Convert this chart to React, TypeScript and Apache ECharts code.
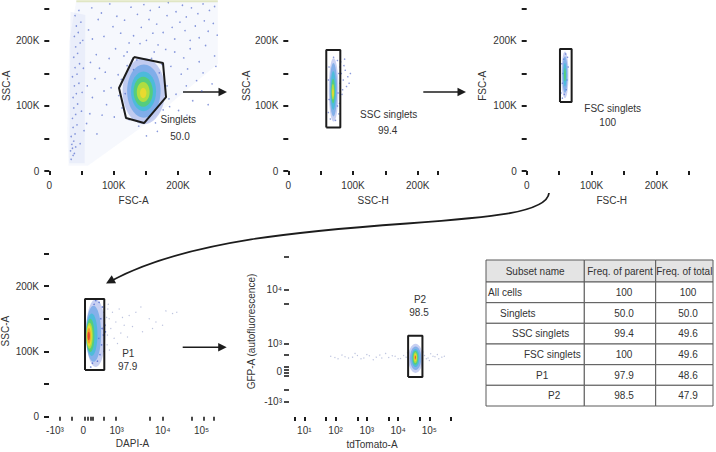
import React, { useEffect, useRef } from 'react';
import * as echarts from 'echarts';

const FONT = 'Liberation Sans, Arial, Helvetica, sans-serif';
const INK = '#1c1c1c';
const TXT = '#333333';
const DOT = '#3a55c4';
const FAINT = '#8d9ac8';
const densityColors = ['#3b57d0', '#3f8fe2', '#3cbfd6', '#56cf70', '#b9de3c', '#ecd92e', '#f39a2a', '#e5412b'];
const densityOpacity = [0.28, 0.5, 0.75, 0.88, 0.92, 0.95, 0.95, 0.95];

// ---------- axis ticks / labels ----------
const kTicks = [0, 50, 100, 150, 200, 250];
const kTicks200 = [0, 50, 100, 150, 200];
const kTicksSscH = [0, 50, 100, 150, 200, 231];
const kLabels = [0, 100, 200];

const dapiTicks = [66, 136, 217, 233, 248, 263, 325, 401, 605, 681, 855, 924, 984];
const dapiLabelPos = [36, 205, 405, 681, 914];
const dapiLabelText = ['-10³', '0', '10³', '10⁴', '10⁵'];

const tdTicks = [5, 10, 50, 100, 500, 1000, 5000, 10000, 50000, 100000, 500000];
const tdLabelPos = [10, 100, 1000, 10000, 100000];
const tdLabelText = ['10¹', '10²', '10³', '10⁴', '10⁵'];

const gfpTicks = [90, 158, 243, 259, 275, 291, 363, 431, 665, 743, 937];
const gfpLabelPos = [90, 265, 431, 743];
const gfpLabelText = ['-10³', '0', '10³', '10⁴'];

// ---------- Panel 1: FSC-A (K) vs SSC-A (K) ----------
const p1Background = [[30, 8], [60, 8], [150, 72], [262, 165], [262, 262], [42, 262], [31, 200], [28, 60]];
const p1Band = [[31, 12], [55, 12], [56, 240], [33, 245]];
const p1Dots = [
  [34, 18], [37, 24], [33, 31], [36, 35], [39, 27], [35, 41], [38, 46], [41, 37], [34, 53], [40, 57], [37, 67], [43, 71], [36, 81], [41, 87],
  [38, 97], [44, 103], [37, 113], [42, 119], [39, 131], [46, 135], [36, 145], [43, 149], [40, 159], [47, 165], [38, 175], [44, 181], [41, 191],
  [48, 197], [39, 207], [45, 213], [42, 223], [49, 229], [40, 239], [46, 247], [51, 121], [53, 158], [50, 92], [52, 201], [54, 62], [48, 42],
  [58, 73], [63, 88], [67, 113], [59, 131], [71, 142], [64, 167], [73, 179], [67, 203], [61, 217], [76, 233], [66, 251], [81, 243], [78, 158],
  [85, 123], [89, 102], [82, 86], [96, 128], [87, 152], [93, 173], [85, 207], [99, 222], [94, 257], [105, 238], [111, 212], [103, 188],
  [116, 177], [107, 148], [101, 83], [113, 97], [121, 183], [117, 232], [127, 252], [131, 208], [124, 197], [74, 57],
  [137, 241], [143, 221], [147, 256], [155, 233], [161, 212], [157, 247], [167, 226], [171, 252], [177, 213], [183, 239], [185, 259],
  [191, 221], [195, 203], [197, 245], [203, 229], [207, 255], [211, 216], [213, 237], [219, 201], [221, 251], [227, 223], [231, 242],
  [233, 205], [239, 257], [241, 231], [247, 215], [249, 247], [255, 227], [257, 253], [261, 209], [169, 194], [181, 187], [195, 183],
  [209, 174], [219, 188], [233, 168], [243, 193], [257, 177], [189, 161], [205, 149], [215, 157], [229, 139], [239, 151], [253, 134],
  [259, 161], [197, 118], [213, 131], [223, 108], [237, 123], [247, 102], [187, 99], [201, 93], [214, 86], [141, 196], [151, 201],
  [129, 171], [163, 183], [115, 101], [112, 141], [121, 162], [136, 171], [159, 173], [175, 164], [183, 131], [177, 94], [165, 74],
  [139, 69], [124, 79], [118, 119], [171, 151], [131, 156], [156, 84], [186, 111], [108, 116], [168, 61], [151, 54],
];
const p1Saturated = [[42, 261], [262, 261]];
const p1Density = [
  [114, 180, 72, 174, 0], [121, 173, 82, 164, 1], [127, 166, 92, 153, 2],
  [131, 161, 99, 145, 3], [136, 156, 106, 137, 4], [141, 151, 112, 128, 5],
];
const p1Gate = [[131.7, 175.4], [176.8, 166], [181.5, 113.8], [147.3, 73.8], [119.3, 81.5], [108.4, 127.7], [131.7, 175.4]];

// ---------- Panel 2: SSC-H (K) vs SSC-A (K) ----------
const p2Dots = [
  [62, 90], [63, 110], [62, 140], [63, 160], [76, 100], [77, 120], [78, 150], [76, 170], [80, 160], [82, 150], [85, 140], [88, 155],
  [90, 130], [84, 125], [92, 145], [86, 162], [81, 168], [94, 135], [83, 118], [87, 172], [79, 104], [78, 88], [80, 135], [96, 150],
  [65, 80], [70, 175], [73, 78],
];
const p2Density = [
  [62.5, 77.5, 76, 174, 0], [64, 75.5, 84, 166, 1], [65.5, 73.5, 94, 154, 2],
  [66.5, 72, 104, 142, 3], [67, 71, 110, 134, 4], [67.8, 70.2, 114, 126, 5],
];
const p2Gate = [[58.7, 67], [80.4, 67], [80.4, 186], [58.7, 186], [58.7, 67]];

// ---------- Panel 3: FSC-H (K) vs FSC-A (K) ----------
const p3Dots = [[53, 120], [55, 135], [56, 150], [54, 165], [63, 175], [64, 160], [62, 140], [58, 118], [60, 180], [57, 172], [61, 125], [55, 112]];
const p3Density = [[53.5, 64.5, 112, 184, 0], [55, 63, 120, 176, 1], [56.5, 61.5, 130, 166, 2], [57.5, 60.5, 138, 158, 3]];
const p3Gate = [[51.3, 106], [69.3, 106], [69.3, 187.7], [51.3, 187.7], [51.3, 106]];

// ---------- Panel 4: DAPI-A (display channel) vs SSC-A (K) ----------
const p4Dots = [
  [300, 175], [320, 168], [330, 160], [310, 150], [335, 140], [325, 125], [315, 110], [305, 95], [290, 85], [330, 100], [280, 178],
  [270, 172], [338, 130], [318, 135], [298, 120], [260, 82], [250, 76],
];
const p4Sparse = [
  [345, 152], [352, 165], [360, 150], [380, 160], [370, 135], [400, 145], [420, 165], [450, 140], [480, 155], [520, 160], [560, 130],
  [600, 150], [640, 145], [700, 162], [740, 158], [765, 160], [350, 125], [390, 120], [430, 128], [500, 138], [550, 168], [620, 135],
  [680, 140], [355, 172], [348, 110], [362, 102], [470, 122], [410, 112], [440, 152],
];
const p4Density = [
  [221, 338, 76, 180, 0], [221, 312, 84, 170, 1], [222, 290, 93, 158, 2], [223, 272, 99, 150, 3],
  [224, 262, 104, 144, 4], [226, 256, 108, 140, 5], [228, 250, 112, 136, 6], [231, 245, 117, 130, 7],
];
const p4Gate = [[215.6, 71.5], [331.1, 71.5], [331.1, 180.2], [215.6, 180.2], [215.6, 71.5]];

// ---------- Panel 5: tdTomato-A (log) vs GFP-A (display channel) ----------
const p5Sparse = [
  [70, 355], [95, 348], [120, 340], [160, 362], [200, 352], [260, 345], [350, 350], [420, 372], [500, 360], [650, 340], [800, 345],
  [1000, 365], [1200, 358], [1600, 335], [2000, 350], [2600, 362], [3000, 345], [4000, 372], [5000, 348], [6500, 358], [8000, 355],
  [10000, 340], [12000, 342], [15000, 360], [18000, 350], [20000, 375], [62000, 380], [70000, 360], [80000, 340], [90000, 345],
  [100000, 330], [110000, 370], [130000, 355], [150000, 352], [180000, 365], [200000, 340], [250000, 350], [300000, 355], [85000, 610],
];
const p5Density = [
  [21000, 62000, 258, 428, 0], [24000, 55000, 275, 412, 1], [27000, 48000, 292, 398, 2], [29000, 44000, 305, 388, 3],
  [31000, 41000, 316, 378, 4], [32500, 39000, 326, 370, 5], [33500, 37500, 334, 362, 6], [34500, 36500, 340, 356, 7],
];
const p5Gate = [[20900, 234], [60000, 234], [60000, 475], [20900, 475], [20900, 234]];

// ---------- Table ----------
const tableHeader = ['Subset name', 'Freq. of parent', 'Freq. of total'];
const subsetNames = ['All cells', 'Singlets', 'SSC singlets', 'FSC singlets', 'P1', 'P2'];
const subsetIndent = [0, 1, 2, 3, 4, 5];
const freqParent = [100, 50.0, 99.4, 100, 97.9, 98.5];
const freqTotal = [100, 50.0, 49.6, 49.6, 48.6, 47.9];

const fmtFreq = (v: number) => (v === 100 ? '100' : v.toFixed(1));
const fmtK = (v: number) => (Math.abs(v) < 1e-6 ? '0' : `${Math.round(v)}K`);
const nearestLabel = (pos: number[], text: string[], log = false) => (v: number) => {
  let best = 0;
  let bd = Infinity;
  pos.forEach((p, i) => {
    const d = log ? Math.abs(Math.log10(p) - Math.log10(v)) : Math.abs(p - v);
    if (d < bd) { bd = d; best = i; }
  });
  return text[best];
};

function axis(gridIndex: number, o: any) {
  return {
    gridIndex,
    type: o.type || 'value',
    logBase: 10,
    min: o.min,
    max: o.max,
    name: o.name,
    nameLocation: 'middle',
    nameGap: o.nameGap,
    nameTextStyle: { fontSize: 10, color: TXT, fontFamily: FONT },
    axisLine: { show: false },
    splitLine: { show: false },
    axisTick: { show: true, customValues: o.ticks, length: o.tickLen, lineStyle: { color: INK, width: o.tickWidth || 2 } },
    axisLabel: { show: true, customValues: o.labels, formatter: o.fmt, fontSize: 10, color: TXT, fontFamily: FONT, margin: o.margin },
  };
}

function densitySeries(g: number, layers: number[][]) {
  return {
    type: 'custom', xAxisIndex: g, yAxisIndex: g, silent: true, z: 3,
    encode: { x: [0, 1], y: [2, 3] },
    data: layers,
    renderItem: (_p: any, api: any) => {
      const a = api.coord([api.value(0), api.value(2)]);
      const b = api.coord([api.value(1), api.value(3)]);
      const lvl = api.value(4);
      return {
        type: 'ellipse',
        shape: { cx: (a[0] + b[0]) / 2, cy: (a[1] + b[1]) / 2, rx: Math.abs(b[0] - a[0]) / 2, ry: Math.abs(b[1] - a[1]) / 2 },
        style: { fill: densityColors[lvl], opacity: densityOpacity[lvl] },
      };
    },
  };
}

function polySeries(g: number, pts: number[][], fill: string) {
  return {
    type: 'custom', xAxisIndex: g, yAxisIndex: g, silent: true, z: 1,
    data: [pts[0]],
    renderItem: (_p: any, api: any) => ({
      type: 'polygon',
      shape: { points: pts.map((pt) => api.coord(pt)) },
      style: { fill },
    }),
  };
}

function dotSeries(g: number, pts: number[][], color = DOT, size = 1.7, opacity = 0.7) {
  return {
    type: 'scatter', xAxisIndex: g, yAxisIndex: g, silent: true, z: 2,
    symbolSize: size, itemStyle: { color, opacity }, data: pts,
  };
}

function gateSeries(g: number, pts: number[][]) {
  return {
    type: 'line', xAxisIndex: g, yAxisIndex: g, silent: true, z: 5,
    symbol: 'none', lineStyle: { color: INK, width: 2 }, data: pts,
  };
}

function head(tx: number, ty: number, dx: number, dy: number, len = 8.5, hw = 4.3) {
  const L = Math.hypot(dx, dy);
  const ux = dx / L;
  const uy = dy / L;
  const bx = tx - ux * len;
  const by = ty - uy * len;
  return {
    type: 'polygon',
    shape: { points: [[tx, ty], [bx - uy * hw, by + ux * hw], [bx + uy * hw, by - ux * hw]] },
    style: { fill: INK },
  };
}

function straightArrow(x1: number, x2: number, y: number) {
  return [
    { type: 'line', shape: { x1, y1: y, x2: x2 - 6, y2: y }, style: { stroke: INK, lineWidth: 1.6 } },
    head(x2, y, 1, 0),
  ];
}

function txt(text: string, x: number, y: number, align = 'center') {
  return {
    type: 'text',
    style: { text, x, y, fill: TXT, font: `10px ${FONT}`, align, verticalAlign: 'middle', textAlign: align, textVerticalAlign: 'middle' },
  };
}

function buildTable() {
  const colX = [486, 584.3, 655.7, 713];
  const rowY = [260, 282, 302.7, 323.3, 344, 364.7, 385.3, 406];
  const els: any[] = [];
  for (let r = 0; r < rowY.length - 1; r++) {
    for (let c = 0; c < 3; c++) {
      els.push({
        type: 'rect',
        shape: { x: colX[c], y: rowY[r], width: colX[c + 1] - colX[c], height: rowY[r + 1] - rowY[r] },
        style: { fill: r === 0 ? '#e4e4e4' : '#ffffff', stroke: '#5a5a5a', lineWidth: 1 },
      });
    }
  }
  const cy = (r: number) => (rowY[r] + rowY[r + 1]) / 2;
  els.push(txt(tableHeader[0], (colX[0] + colX[1]) / 2, cy(0)));
  els.push(txt(tableHeader[1], (colX[1] + colX[2]) / 2, cy(0)));
  els.push(txt(tableHeader[2], (colX[2] + colX[3]) / 2, cy(0)));
  subsetNames.forEach((n, i) => {
    els.push(txt(n, 488 + subsetIndent[i] * 12, cy(i + 1), 'left'));
    els.push(txt(fmtFreq(freqParent[i]), 624, cy(i + 1)));
    els.push(txt(fmtFreq(freqTotal[i]), 688, cy(i + 1)));
  });
  return els;
}

export default function App() {
  const ref = useRef<HTMLDivElement>(null);
  useEffect(() => {
    if (!ref.current) return;
    const chart = echarts.init(ref.current, undefined, { renderer: 'svg' });
    const gridBase = { containLabel: false, outerBoundsMode: 'none', show: false };
    const K = 262.144;
    const curve = { x1: 549, y1: 193, cpx1: 545, cpy1: 238, cpx2: 250, cpy2: 205, x2: 110, y2: 281.5 };
    const option: any = {
      animation: false,
      backgroundColor: '#ffffff',
      grid: [
        { ...gridBase, left: 49.3, top: 0.6, width: 168.6, height: 170.4 },
        { ...gridBase, left: 288.3, top: 0.6, width: 169.6, height: 170.4 },
        { ...gridBase, left: 526.7, top: 0.6, width: 170, height: 170.4 },
        { ...gridBase, left: 49, top: 245.5, width: 167, height: 171.2 },
        { ...gridBase, left: 289, top: 246, width: 166, height: 171 },
      ],
      xAxis: [
        axis(0, { min: 0, max: K, ticks: kTicks, labels: kLabels, fmt: fmtK, name: 'FSC-A', nameGap: 24, margin: 9, tickLen: 4 }),
        axis(1, { min: 0, max: K, ticks: kTicksSscH, labels: kLabels, fmt: fmtK, name: 'SSC-H', nameGap: 24, margin: 9, tickLen: 4 }),
        axis(2, { min: 0, max: K, ticks: kTicks, labels: kLabels, fmt: fmtK, name: 'FSC-H', nameGap: 24, margin: 9, tickLen: 4 }),
        axis(3, { min: 0, max: 1000, ticks: dapiTicks, labels: dapiLabelPos, fmt: nearestLabel(dapiLabelPos, dapiLabelText), name: 'DAPI-A', nameGap: 22, margin: 9, tickLen: 4, tickWidth: 1.6 }),
        axis(4, { type: 'log', min: 3.24, max: 660000, ticks: tdTicks, labels: tdLabelPos, fmt: nearestLabel(tdLabelPos, tdLabelText, true), name: 'tdTomato-A', nameGap: 22, margin: 8, tickLen: 4 }),
      ],
      yAxis: [
        axis(0, { min: 0, max: K, ticks: kTicks, labels: kLabels, fmt: fmtK, name: 'SSC-A', nameGap: 38, margin: 10, tickLen: 5 }),
        axis(1, { min: 0, max: K, ticks: kTicks200, labels: kLabels, fmt: fmtK, name: 'SSC-A', nameGap: 37, margin: 10, tickLen: 5 }),
        axis(2, { min: 0, max: K, ticks: kTicks, labels: kLabels, fmt: fmtK, name: 'FSC-A', nameGap: 39, margin: 10, tickLen: 5 }),
        axis(3, { min: 0, max: K, ticks: kTicks, labels: kLabels, fmt: fmtK, name: 'SSC-A', nameGap: 39, margin: 10, tickLen: 5 }),
        axis(4, { min: 0, max: 1000, ticks: gfpTicks, labels: gfpLabelPos, fmt: nearestLabel(gfpLabelPos, gfpLabelText), name: 'GFP-A (autofluorescence)', nameGap: 33, margin: 7, tickLen: 5, tickWidth: 1.6 }),
      ],
      series: [
        polySeries(0, p1Background, 'rgba(80,110,210,0.05)'),
        polySeries(0, p1Band, 'rgba(80,110,210,0.07)'),
        { type: 'line', xAxisIndex: 0, yAxisIndex: 0, silent: true, symbol: 'none', lineStyle: { color: 'rgba(205,215,150,0.55)', width: 2 }, data: p1Saturated },
        dotSeries(0, p1Dots, DOT, 1.6, 0.6), densitySeries(0, p1Density), gateSeries(0, p1Gate),
        dotSeries(1, p2Dots, DOT, 1.5, 0.6), densitySeries(1, p2Density), gateSeries(1, p2Gate),
        dotSeries(2, p3Dots, DOT, 1.5, 0.6), densitySeries(2, p3Density), gateSeries(2, p3Gate),
        dotSeries(3, p4Dots, DOT, 1.6, 0.7), dotSeries(3, p4Sparse, FAINT, 1.3, 0.6), densitySeries(3, p4Density), gateSeries(3, p4Gate),
        dotSeries(4, p5Sparse, FAINT, 1.3, 0.6), densitySeries(4, p5Density), gateSeries(4, p5Gate),
      ],
      graphic: [
        txt(subsetNames[1], 178.3, 119.3), txt(fmtFreq(freqParent[1]), 180, 136),
        txt(subsetNames[2], 388.7, 114), txt(fmtFreq(freqParent[2]), 387.7, 130.7),
        txt(subsetNames[3], 612.7, 108.3), txt(fmtFreq(freqParent[3]), 607.7, 122),
        txt(subsetNames[4], 128.3, 353.3), txt(fmtFreq(freqParent[4]), 127.7, 366.7),
        txt(subsetNames[5], 420, 299.3), txt(fmtFreq(freqParent[5]), 419, 312.7),
        ...straightArrow(183, 227, 92),
        ...straightArrow(423.3, 466, 92),
        ...straightArrow(182.7, 226.7, 347.3),
        { type: 'bezierCurve', shape: curve, style: { stroke: INK, lineWidth: 1.8, fill: 'none' } },
        head(106, 283.5, 106 - curve.cpx2, 283.5 - curve.cpy2, 9, 4.5),
        ...buildTable(),
      ],
    };
    chart.setOption(option);
    return () => chart.dispose();
  }, []);
  return <div ref={ref} style={{ position: 'fixed', left: 0, top: 0, width: 716, height: 452 }} />;
}
